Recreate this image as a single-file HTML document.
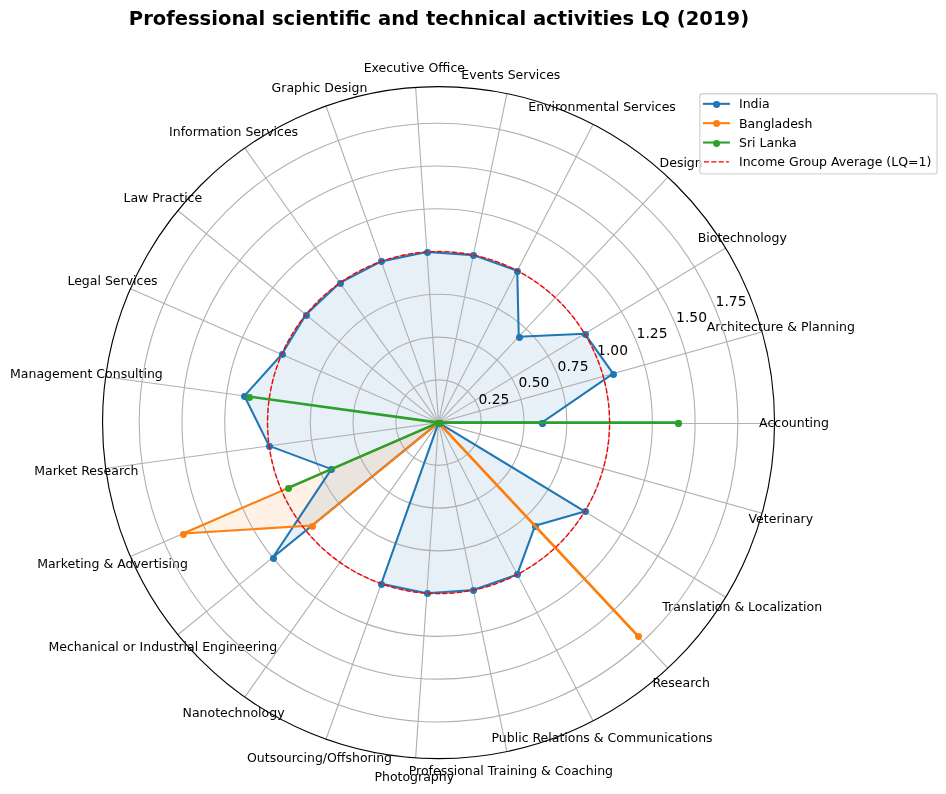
<!DOCTYPE html>
<html><head><meta charset="utf-8"><title>Professional scientific and technical activities LQ (2019)</title>
<style>html,body{margin:0;padding:0;background:#fff;}body{width:946px;height:794px;overflow:hidden;}svg{display:block;will-change:transform;}</style>
</head><body>
<svg width="946" height="794" viewBox="0 0 681.12 571.68">
 <defs>
  <style type="text/css">*{stroke-linejoin: round; stroke-linecap: butt}</style>
 </defs>
 <g id="figure_1">
  <g id="patch_1">
   <path d="M 0 571.68 L 681.12 571.68 L 681.12 0 L 0 0 z
" style="fill: #ffffff"/>
  </g>
  <g id="axes_1">
   <g id="patch_2">
    <path d="M 557.676 304.272 C 557.676 272.503357 551.41827 241.043623 539.260937 211.693224 C 527.103603 182.342825 509.283096 155.672551 486.819273 133.208727 C 464.355449 110.744904 437.685175 92.924397 408.334776 80.767063 C 378.984377 68.60973 347.524643 62.352 315.756 62.352 C 283.987357 62.352 252.527623 68.60973 223.177224 80.767063 C 193.826825 92.924397 167.156551 110.744904 144.692727 133.208727 C 122.228904 155.672551 104.408397 182.342825 92.251063 211.693224 C 80.09373 241.043623 73.836 272.503357 73.836 304.272 C 73.836 336.040643 80.09373 367.500377 92.251063 396.850776 C 104.408397 426.201175 122.228904 452.871449 144.692727 475.335273 C 167.156551 497.799096 193.826825 515.619603 223.177224 527.776937 C 252.527623 539.93427 283.987357 546.192 315.756 546.192 C 347.524643 546.192 378.984377 539.93427 408.334776 527.776937 C 437.685175 515.619603 464.355449 497.799096 486.819273 475.335273 C 509.283096 452.871449 527.103603 426.201175 539.260937 396.850776 C 551.41827 367.500377 557.676 336.040643 557.676 304.272 M 315.756 304.272 C 315.756 304.272 315.756 304.272 315.756 304.272 C 315.756 304.272 315.756 304.272 315.756 304.272 C 315.756 304.272 315.756 304.272 315.756 304.272 C 315.756 304.272 315.756 304.272 315.756 304.272 C 315.756 304.272 315.756 304.272 315.756 304.272 C 315.756 304.272 315.756 304.272 315.756 304.272 C 315.756 304.272 315.756 304.272 315.756 304.272 C 315.756 304.272 315.756 304.272 315.756 304.272 C 315.756 304.272 315.756 304.272 315.756 304.272 C 315.756 304.272 315.756 304.272 315.756 304.272 C 315.756 304.272 315.756 304.272 315.756 304.272 C 315.756 304.272 315.756 304.272 315.756 304.272 C 315.756 304.272 315.756 304.272 315.756 304.272 C 315.756 304.272 315.756 304.272 315.756 304.272 C 315.756 304.272 315.756 304.272 315.756 304.272 C 315.756 304.272 315.756 304.272 315.756 304.272 z
" style="fill: #ffffff"/>
   </g>
   <g id="patch_3">
    <path d="M 390.142224 304.272 L 441.460384 269.051283 L 420.982876 240.282119 L 373.505574 242.437305 L 372.41577 194.923608 L 340.812829 183.69192 L 307.351537 181.403105 L 274.513566 188.226914 L 244.734358 203.657256 L 220.2225 226.549733 L 202.795925 255.206515 L 175.970382 285.058909 L 193.747082 321.04174 L 238.604269 337.783726 L 196.367785 401.401517 L 315.756 304.272 L 274.513566 420.317086 L 307.351537 427.140895 L 340.812829 424.85208 L 372.41577 413.620392 L 385.189985 378.617645 L 420.982876 368.261881 L 315.756 304.272 z
" clip-path="url(#p01cf127305)" style="fill: #1f77b4; opacity: 0.1; stroke: #1f77b4; stroke-linejoin: miter"/>
   </g>
   <g id="patch_4">
    <path d="M 315.756 304.272 L 315.756 304.272 L 315.756 304.272 L 315.756 304.272 L 315.756 304.272 L 315.756 304.272 L 315.756 304.272 L 315.756 304.272 L 315.756 304.272 L 315.756 304.272 L 315.756 304.272 L 315.756 304.272 L 315.756 304.272 L 131.856998 384.150609 L 224.617041 378.419043 L 315.756 304.272 L 315.756 304.272 L 315.756 304.272 L 315.756 304.272 L 315.756 304.272 L 459.41542 458.093679 L 315.756 304.272 L 315.756 304.272 z
" clip-path="url(#p01cf127305)" style="fill: #ff7f0e; opacity: 0.1; stroke: #ff7f0e; stroke-linejoin: miter"/>
   </g>
   <g id="patch_5">
    <path d="M 488.420712 304.272 L 315.756 304.272 L 315.756 304.272 L 315.756 304.272 L 315.756 304.272 L 315.756 304.272 L 315.756 304.272 L 315.756 304.272 L 315.756 304.272 L 315.756 304.272 L 315.756 304.272 L 179.350029 285.523431 L 315.756 304.272 L 207.540248 351.276734 L 315.756 304.272 L 315.756 304.272 L 315.756 304.272 L 315.756 304.272 L 315.756 304.272 L 315.756 304.272 L 315.756 304.272 L 315.756 304.272 L 315.756 304.272 z
" clip-path="url(#p01cf127305)" style="fill: #2ca02c; opacity: 0.1; stroke: #2ca02c; stroke-linejoin: miter"/>
   </g>
   <g id="matplotlib.axis_1">
    <g id="xtick_1">
     <g id="line2d_1">
      <path d="M 315.756 304.92 L 557.676 304.92 " clip-path="url(#p01cf127305)" style="fill: none; stroke: #b0b0b0; stroke-width: 0.8; stroke-linecap: square"/>
     </g>
     <g id="text_1" transform="translate(0.000 0.720)">
      <text style="font-size: 9px; font-family: 'DejaVu Sans', sans-serif; text-anchor: middle" x="571.676" y="306.755438" transform="rotate(-0 571.676 306.755438)">Accounting</text>
     </g>
    </g>
    <g id="xtick_2">
     <g id="line2d_2">
      <path d="M 315.756 304.272 L 548.70495 239.002765 " clip-path="url(#p01cf127305)" style="fill: none; stroke: #b0b0b0; stroke-width: 0.8; stroke-linecap: square"/>
     </g>
     <g id="text_2" transform="translate(0.000 0.720)">
      <text style="font-size: 9px; font-family: 'DejaVu Sans', sans-serif; text-anchor: middle" x="562.185792" y="237.709048" transform="rotate(-0 562.185792 237.709048)">Architecture &amp; Planning</text>
     </g>
    </g>
    <g id="xtick_3">
     <g id="line2d_3">
      <path d="M 315.756 304.272 L 522.457142 178.574251 " clip-path="url(#p01cf127305)" style="fill: none; stroke: #b0b0b0; stroke-width: 0.8; stroke-linecap: square"/>
     </g>
     <g id="text_3" transform="translate(0.000 0.720)">
      <text style="font-size: 9px; font-family: 'DejaVu Sans', sans-serif; text-anchor: middle" x="534.419014" y="173.783513" transform="rotate(-0 534.419014 173.783513)">Biotechnology</text>
     </g>
    </g>
    <g id="xtick_4">
     <g id="line2d_4">
      <path d="M 315.756 304.272 L 480.879256 127.468164 " clip-path="url(#p01cf127305)" style="fill: none; stroke: #b0b0b0; stroke-width: 0.8; stroke-linecap: square"/>
     </g>
     <g id="text_4" transform="translate(0.000 0.720)">
      <text style="font-size: 9px; font-family: 'DejaVu Sans', sans-serif; text-anchor: middle" x="490.435" y="119.719898" transform="rotate(-0 490.435 119.719898)">Design</text>
     </g>
    </g>
    <g id="xtick_5">
     <g id="line2d_5">
      <path d="M 315.756 304.272 L 427.054934 89.474808 " clip-path="url(#p01cf127305)" style="fill: none; stroke: #b0b0b0; stroke-width: 0.8; stroke-linecap: square"/>
     </g>
     <g id="text_5" transform="translate(0.000 0.720)">
      <text style="font-size: 9px; font-family: 'DejaVu Sans', sans-serif; text-anchor: middle" x="433.495844" y="79.527852" transform="rotate(-0 433.495844 79.527852)">Environmental Services</text>
     </g>
    </g>
    <g id="xtick_6">
     <g id="line2d_6">
      <path d="M 315.756 304.272 L 364.976079 67.411978 " clip-path="url(#p01cf127305)" style="fill: none; stroke: #b0b0b0; stroke-width: 0.8; stroke-linecap: square"/>
     </g>
     <g id="text_6" transform="translate(0.000 0.720)">
      <text style="font-size: 9px; font-family: 'DejaVu Sans', sans-serif; text-anchor: middle" x="367.824463" y="56.188238" transform="rotate(-0 367.824463 56.188238)">Events Services</text>
     </g>
    </g>
    <g id="xtick_7">
     <g id="line2d_7">
      <path d="M 315.756 304.272 L 299.246795 62.915971 " clip-path="url(#p01cf127305)" style="fill: none; stroke: #b0b0b0; stroke-width: 0.8; stroke-linecap: square"/>
     </g>
     <g id="text_7" transform="translate(0.000 0.720)">
      <text style="font-size: 9px; font-family: 'DejaVu Sans', sans-serif; text-anchor: middle" x="298.291402" y="51.432046" transform="rotate(-0 298.291402 51.432046)">Executive Office</text>
     </g>
    </g>
    <g id="xtick_8">
     <g id="line2d_8">
      <path d="M 315.756 304.272 L 234.741924 76.320238 " clip-path="url(#p01cf127305)" style="fill: none; stroke: #b0b0b0; stroke-width: 0.8; stroke-linecap: square"/>
     </g>
     <g id="text_8" transform="translate(0.000 0.720)">
      <text style="font-size: 9px; font-family: 'DejaVu Sans', sans-serif; text-anchor: middle" x="230.05361" y="65.612022" transform="rotate(-0 230.05361 65.612022)">Graphic Design</text>
     </g>
    </g>
    <g id="xtick_9">
     <g id="line2d_9">
      <path d="M 315.756 304.272 L 176.245496 106.630643 " clip-path="url(#p01cf127305)" style="fill: none; stroke: #b0b0b0; stroke-width: 0.8; stroke-linecap: square"/>
     </g>
     <g id="text_9" transform="translate(0.000 0.000)">
      <text style="font-size: 9px; font-family: 'DejaVu Sans', sans-serif; text-anchor: middle" x="168.171972" y="97.676502" transform="rotate(-0 168.171972 97.676502)">Information Services</text>
     </g>
    </g>
    <g id="xtick_10">
     <g id="line2d_10">
      <path d="M 315.756 304.272 L 128.095925 151.599205 " clip-path="url(#p01cf127305)" style="fill: none; stroke: #b0b0b0; stroke-width: 0.8; stroke-linecap: square"/>
     </g>
     <g id="text_10" transform="translate(0.000 0.000)">
      <text style="font-size: 9px; font-family: 'DejaVu Sans', sans-serif; text-anchor: middle" x="117.235966" y="145.247411" transform="rotate(-0 117.235966 145.247411)">Law Practice</text>
     </g>
    </g>
    <g id="xtick_11">
     <g id="line2d_11">
      <path d="M 315.756 304.272 L 93.864242 207.890808 " clip-path="url(#p01cf127305)" style="fill: none; stroke: #b0b0b0; stroke-width: 0.8; stroke-linecap: square"/>
     </g>
     <g id="text_11" transform="translate(0.000 0.720)">
      <text style="font-size: 9px; font-family: 'DejaVu Sans', sans-serif; text-anchor: middle" x="81.023284" y="204.796631" transform="rotate(-0 81.023284 204.796631)">Legal Services</text>
     </g>
    </g>
    <g id="xtick_12">
     <g id="line2d_12">
      <path d="M 315.756 304.272 L 76.089256 271.330564 " clip-path="url(#p01cf127305)" style="fill: none; stroke: #b0b0b0; stroke-width: 0.8; stroke-linecap: square"/>
     </g>
     <g id="text_12" transform="translate(0.000 0.000)">
      <text style="font-size: 9px; font-family: 'DejaVu Sans', sans-serif; text-anchor: middle" x="62.219653" y="271.907669" transform="rotate(-0 62.219653 271.907669)">Management Consulting</text>
     </g>
    </g>
    <g id="xtick_13">
     <g id="line2d_13">
      <path d="M 315.756 304.272 L 76.089256 337.213436 " clip-path="url(#p01cf127305)" style="fill: none; stroke: #b0b0b0; stroke-width: 0.8; stroke-linecap: square"/>
     </g>
     <g id="text_13" transform="translate(0.000 0.720)">
      <text style="font-size: 9px; font-family: 'DejaVu Sans', sans-serif; text-anchor: middle" x="62.219653" y="341.603206" transform="rotate(-0 62.219653 341.603206)">Market Research</text>
     </g>
    </g>
    <g id="xtick_14">
     <g id="line2d_14">
      <path d="M 315.756 304.272 L 93.864242 400.653192 " clip-path="url(#p01cf127305)" style="fill: none; stroke: #b0b0b0; stroke-width: 0.8; stroke-linecap: square"/>
     </g>
     <g id="text_14" transform="translate(0.000 0.000)">
      <text style="font-size: 9px; font-family: 'DejaVu Sans', sans-serif; text-anchor: middle" x="81.023284" y="408.714244" transform="rotate(-0 81.023284 408.714244)">Marketing &amp; Advertising</text>
     </g>
    </g>
    <g id="xtick_15">
     <g id="line2d_15">
      <path d="M 315.756 304.272 L 128.095925 456.944795 " clip-path="url(#p01cf127305)" style="fill: none; stroke: #b0b0b0; stroke-width: 0.8; stroke-linecap: square"/>
     </g>
     <g id="text_15" transform="translate(0.000 0.720)">
      <text style="font-size: 9px; font-family: 'DejaVu Sans', sans-serif; text-anchor: middle" x="117.235966" y="468.263464" transform="rotate(-0 117.235966 468.263464)">Mechanical or Industrial Engineering</text>
     </g>
    </g>
    <g id="xtick_16">
     <g id="line2d_16">
      <path d="M 315.756 304.272 L 176.245496 501.913357 " clip-path="url(#p01cf127305)" style="fill: none; stroke: #b0b0b0; stroke-width: 0.8; stroke-linecap: square"/>
     </g>
     <g id="text_16" transform="translate(0.000 0.720)">
      <text style="font-size: 9px; font-family: 'DejaVu Sans', sans-serif; text-anchor: middle" x="168.171972" y="515.834373" transform="rotate(-0 168.171972 515.834373)">Nanotechnology</text>
     </g>
    </g>
    <g id="xtick_17">
     <g id="line2d_17">
      <path d="M 315.756 304.272 L 234.741924 532.223762 " clip-path="url(#p01cf127305)" style="fill: none; stroke: #b0b0b0; stroke-width: 0.8; stroke-linecap: square"/>
     </g>
     <g id="text_17" transform="translate(0.000 0.720)">
      <text style="font-size: 9px; font-family: 'DejaVu Sans', sans-serif; text-anchor: middle" x="230.05361" y="547.898853" transform="rotate(-0 230.05361 547.898853)">Outsourcing/Offshoring</text>
     </g>
    </g>
    <g id="xtick_18">
     <g id="line2d_18">
      <path d="M 315.756 304.272 L 299.246795 545.628029 " clip-path="url(#p01cf127305)" style="fill: none; stroke: #b0b0b0; stroke-width: 0.8; stroke-linecap: square"/>
     </g>
     <g id="text_18" transform="translate(0.000 0.000)">
      <text style="font-size: 9px; font-family: 'DejaVu Sans', sans-serif; text-anchor: middle" x="298.291402" y="562.078829" transform="rotate(-0 298.291402 562.078829)">Photography</text>
     </g>
    </g>
    <g id="xtick_19">
     <g id="line2d_19">
      <path d="M 315.756 304.272 L 364.976079 541.132022 " clip-path="url(#p01cf127305)" style="fill: none; stroke: #b0b0b0; stroke-width: 0.8; stroke-linecap: square"/>
     </g>
     <g id="text_19" transform="translate(0.000 0.720)">
      <text style="font-size: 9px; font-family: 'DejaVu Sans', sans-serif; text-anchor: middle" x="367.824463" y="557.322637" transform="rotate(-0 367.824463 557.322637)">Professional Training &amp; Coaching</text>
     </g>
    </g>
    <g id="xtick_20">
     <g id="line2d_20">
      <path d="M 315.756 304.272 L 427.054934 519.069192 " clip-path="url(#p01cf127305)" style="fill: none; stroke: #b0b0b0; stroke-width: 0.8; stroke-linecap: square"/>
     </g>
     <g id="text_20" transform="translate(0.000 0.000)">
      <text style="font-size: 9px; font-family: 'DejaVu Sans', sans-serif; text-anchor: middle" x="433.495844" y="533.983023" transform="rotate(-0 433.495844 533.983023)">Public Relations &amp; Communications</text>
     </g>
    </g>
    <g id="xtick_21">
     <g id="line2d_21">
      <path d="M 315.756 304.272 L 480.879256 481.075836 " clip-path="url(#p01cf127305)" style="fill: none; stroke: #b0b0b0; stroke-width: 0.8; stroke-linecap: square"/>
     </g>
     <g id="text_21" transform="translate(0.000 0.720)">
      <text style="font-size: 9px; font-family: 'DejaVu Sans', sans-serif; text-anchor: middle" x="490.435" y="493.790977" transform="rotate(-0 490.435 493.790977)">Research</text>
     </g>
    </g>
    <g id="xtick_22">
     <g id="line2d_22">
      <path d="M 315.756 304.272 L 522.457142 429.969749 " clip-path="url(#p01cf127305)" style="fill: none; stroke: #b0b0b0; stroke-width: 0.8; stroke-linecap: square"/>
     </g>
     <g id="text_22" transform="translate(0.000 0.000)">
      <text style="font-size: 9px; font-family: 'DejaVu Sans', sans-serif; text-anchor: middle" x="534.419014" y="439.727362" transform="rotate(-0 534.419014 439.727362)">Translation &amp; Localization</text>
     </g>
    </g>
    <g id="xtick_23">
     <g id="line2d_23">
      <path d="M 315.756 304.272 L 548.70495 369.541235 " clip-path="url(#p01cf127305)" style="fill: none; stroke: #b0b0b0; stroke-width: 0.8; stroke-linecap: square"/>
     </g>
     <g id="text_23" transform="translate(0.000 0.720)">
      <text style="font-size: 9px; font-family: 'DejaVu Sans', sans-serif; text-anchor: middle" x="562.185792" y="375.801827" transform="rotate(-0 562.185792 375.801827)">Veterinary</text>
     </g>
    </g>
   </g>
   <g id="matplotlib.axis_2">
    <g id="ytick_1">
     <g id="line2d_24">
      <path d="M 346.545 304.272 C 346.545 300.228826 345.748583 296.224966 344.201327 292.48956 C 342.654071 288.754154 340.386067 285.359845 337.527111 282.500889 C 334.668155 279.641933 331.273846 277.373929 327.53844 275.826673 C 323.803034 274.279417 319.799174 273.483 315.756 273.483 C 311.712826 273.483 307.708966 274.279417 303.97356 275.826673 C 300.238154 277.373929 296.843845 279.641933 293.984889 282.500889 C 291.125933 285.359845 288.857929 288.754154 287.310673 292.48956 C 285.763417 296.224966 284.967 300.228826 284.967 304.272 C 284.967 308.315174 285.763417 312.319034 287.310673 316.05444 C 288.857929 319.789846 291.125933 323.184155 293.984889 326.043111 C 296.843845 328.902067 300.238154 331.170071 303.97356 332.717327 C 307.708966 334.264583 311.712826 335.061 315.756 335.061 C 319.799174 335.061 323.803034 334.264583 327.53844 332.717327 C 331.273846 331.170071 334.668155 328.902067 337.527111 326.043111 C 340.386067 323.184155 342.654071 319.789846 344.201327 316.05444 C 345.748583 312.319034 346.545 308.315174 346.545 304.272 " clip-path="url(#p01cf127305)" style="fill: none; stroke: #b0b0b0; stroke-width: 0.8; stroke-linecap: square"/>
     </g>
     <g id="text_24" transform="translate(0.360 0.432)">
      <text style="font-size: 10px; font-family: 'DejaVu Sans', sans-serif; text-anchor: start" x="344.201327" y="290.409872" transform="rotate(-0 344.201327 290.409872)">0.25</text>
     </g>
    </g>
    <g id="ytick_2">
     <g id="line2d_25">
      <path d="M 377.334 304.272 C 377.334 296.185651 375.741166 288.177932 372.646654 280.70712 C 369.552142 273.236307 365.016133 266.447691 359.298221 260.729779 C 353.580309 255.011867 346.791693 250.475858 339.32088 247.381346 C 331.850068 244.286834 323.842349 242.694 315.756 242.694 C 307.669651 242.694 299.661932 244.286834 292.19112 247.381346 C 284.720307 250.475858 277.931691 255.011867 272.213779 260.729779 C 266.495867 266.447691 261.959858 273.236307 258.865346 280.70712 C 255.770834 288.177932 254.178 296.185651 254.178 304.272 C 254.178 312.358349 255.770834 320.366068 258.865346 327.83688 C 261.959858 335.307693 266.495867 342.096309 272.213779 347.814221 C 277.931691 353.532133 284.720307 358.068142 292.19112 361.162654 C 299.661932 364.257166 307.669651 365.85 315.756 365.85 C 323.842349 365.85 331.850068 364.257166 339.32088 361.162654 C 346.791693 358.068142 353.580309 353.532133 359.298221 347.814221 C 365.016133 342.096309 369.552142 335.307693 372.646654 327.83688 C 375.741166 320.366068 377.334 312.358349 377.334 304.272 " clip-path="url(#p01cf127305)" style="fill: none; stroke: #b0b0b0; stroke-width: 0.8; stroke-linecap: square"/>
     </g>
     <g id="text_25" transform="translate(0.612 -0.216)">
      <text style="font-size: 10px; font-family: 'DejaVu Sans', sans-serif; text-anchor: start" x="372.646654" y="278.627432" transform="rotate(-0 372.646654 278.627432)">0.50</text>
     </g>
    </g>
    <g id="ytick_3">
     <g id="line2d_26">
      <path d="M 408.123 304.272 C 408.123 292.142477 405.733748 280.130898 401.091981 268.924679 C 396.450213 257.718461 389.6462 247.535536 381.069332 238.958668 C 372.492464 230.3818 362.309539 223.577787 351.103321 218.936019 C 339.897102 214.294252 327.885523 211.905 315.756 211.905 C 303.626477 211.905 291.614898 214.294252 280.408679 218.936019 C 269.202461 223.577787 259.019536 230.3818 250.442668 238.958668 C 241.8658 247.535536 235.061787 257.718461 230.420019 268.924679 C 225.778252 280.130898 223.389 292.142477 223.389 304.272 C 223.389 316.401523 225.778252 328.413102 230.420019 339.619321 C 235.061787 350.825539 241.8658 361.008464 250.442668 369.585332 C 259.019536 378.1622 269.202461 384.966213 280.408679 389.607981 C 291.614898 394.249748 303.626477 396.639 315.756 396.639 C 327.885523 396.639 339.897102 394.249748 351.103321 389.607981 C 362.309539 384.966213 372.492464 378.1622 381.069332 369.585332 C 389.6462 361.008464 396.450213 350.825539 401.091981 339.619321 C 405.733748 328.413102 408.123 316.401523 408.123 304.272 " clip-path="url(#p01cf127305)" style="fill: none; stroke: #b0b0b0; stroke-width: 0.8; stroke-linecap: square"/>
     </g>
     <g id="text_26" transform="translate(0.360 0.432)">
      <text style="font-size: 10px; font-family: 'DejaVu Sans', sans-serif; text-anchor: start" x="401.091981" y="266.844992" transform="rotate(-0 401.091981 266.844992)">0.75</text>
     </g>
    </g>
    <g id="ytick_4">
     <g id="line2d_27">
      <path d="M 438.912 304.272 C 438.912 288.099302 435.726331 272.083864 429.537308 257.142239 C 423.348284 242.200615 414.276267 228.623381 402.840443 217.187557 C 391.404619 205.751733 377.827385 196.679716 362.885761 190.490692 C 347.944136 184.301669 331.928698 181.116 315.756 181.116 C 299.583302 181.116 283.567864 184.301669 268.626239 190.490692 C 253.684615 196.679716 240.107381 205.751733 228.671557 217.187557 C 217.235733 228.623381 208.163716 242.200615 201.974692 257.142239 C 195.785669 272.083864 192.6 288.099302 192.6 304.272 C 192.6 320.444698 195.785669 336.460136 201.974692 351.401761 C 208.163716 366.343385 217.235733 379.920619 228.671557 391.356443 C 240.107381 402.792267 253.684615 411.864284 268.626239 418.053308 C 283.567864 424.242331 299.583302 427.428 315.756 427.428 C 331.928698 427.428 347.944136 424.242331 362.885761 418.053308 C 377.827385 411.864284 391.404619 402.792267 402.840443 391.356443 C 414.276267 379.920619 423.348284 366.343385 429.537308 351.401761 C 435.726331 336.460136 438.912 320.444698 438.912 304.272 " clip-path="url(#p01cf127305)" style="fill: none; stroke: #b0b0b0; stroke-width: 0.8; stroke-linecap: square"/>
     </g>
     <g id="text_27" transform="translate(0.360 0.432)">
      <text style="font-size: 10px; font-family: 'DejaVu Sans', sans-serif; text-anchor: start" x="429.537308" y="255.062552" transform="rotate(-0 429.537308 255.062552)">1.00</text>
     </g>
    </g>
    <g id="ytick_5">
     <g id="line2d_28">
      <path d="M 469.701 304.272 C 469.701 284.056128 465.718914 264.03683 457.982635 245.359799 C 450.246355 226.682768 438.906334 209.711227 424.611553 195.416447 C 410.316773 181.121666 393.345232 169.781645 374.668201 162.045365 C 355.99117 154.309086 335.971872 150.327 315.756 150.327 C 295.540128 150.327 275.52083 154.309086 256.843799 162.045365 C 238.166768 169.781645 221.195227 181.121666 206.900447 195.416447 C 192.605666 209.711227 181.265645 226.682768 173.529365 245.359799 C 165.793086 264.03683 161.811 284.056128 161.811 304.272 C 161.811 324.487872 165.793086 344.50717 173.529365 363.184201 C 181.265645 381.861232 192.605666 398.832773 206.900447 413.127553 C 221.195227 427.422334 238.166768 438.762355 256.843799 446.498635 C 275.52083 454.234914 295.540128 458.217 315.756 458.217 C 335.971872 458.217 355.99117 454.234914 374.668201 446.498635 C 393.345232 438.762355 410.316773 427.422334 424.611553 413.127553 C 438.906334 398.832773 450.246355 381.861232 457.982635 363.184201 C 465.718914 344.50717 469.701 324.487872 469.701 304.272 " clip-path="url(#p01cf127305)" style="fill: none; stroke: #b0b0b0; stroke-width: 0.8; stroke-linecap: square"/>
     </g>
     <g id="text_28" transform="translate(0.360 0.432)">
      <text style="font-size: 10px; font-family: 'DejaVu Sans', sans-serif; text-anchor: start" x="457.982635" y="243.280112" transform="rotate(-0 457.982635 243.280112)">1.25</text>
     </g>
    </g>
    <g id="ytick_6">
     <g id="line2d_29">
      <path d="M 500.49 304.272 C 500.49 280.012953 495.711497 255.989795 486.427962 233.577359 C 477.144426 211.164922 463.5364 190.799072 446.382664 173.645336 C 429.228928 156.4916 408.863078 142.883574 386.450641 133.600038 C 364.038205 124.316503 340.015047 119.538 315.756 119.538 C 291.496953 119.538 267.473795 124.316503 245.061359 133.600038 C 222.648922 142.883574 202.283072 156.4916 185.129336 173.645336 C 167.9756 190.799072 154.367574 211.164922 145.084038 233.577359 C 135.800503 255.989795 131.022 280.012953 131.022 304.272 C 131.022 328.531047 135.800503 352.554205 145.084038 374.966641 C 154.367574 397.379078 167.9756 417.744928 185.129336 434.898664 C 202.283072 452.0524 222.648922 465.660426 245.061359 474.943962 C 267.473795 484.227497 291.496953 489.006 315.756 489.006 C 340.015047 489.006 364.038205 484.227497 386.450641 474.943962 C 408.863078 465.660426 429.228928 452.0524 446.382664 434.898664 C 463.5364 417.744928 477.144426 397.379078 486.427962 374.966641 C 495.711497 352.554205 500.49 328.531047 500.49 304.272 " clip-path="url(#p01cf127305)" style="fill: none; stroke: #b0b0b0; stroke-width: 0.8; stroke-linecap: square"/>
     </g>
     <g id="text_29" transform="translate(0.360 0.432)">
      <text style="font-size: 10px; font-family: 'DejaVu Sans', sans-serif; text-anchor: start" x="486.427962" y="231.497671" transform="rotate(-0 486.427962 231.497671)">1.50</text>
     </g>
    </g>
    <g id="ytick_7">
     <g id="line2d_30">
      <path d="M 531.279 304.272 C 531.279 275.969779 525.70408 247.942761 514.873288 221.794919 C 504.042497 195.647076 488.166467 171.886918 468.153775 151.874225 C 448.141082 131.861533 424.380924 115.985503 398.233081 105.154712 C 372.085239 94.32392 344.058221 88.749 315.756 88.749 C 287.453779 88.749 259.426761 94.32392 233.278919 105.154712 C 207.131076 115.985503 183.370918 131.861533 163.358225 151.874225 C 143.345533 171.886918 127.469503 195.647076 116.638712 221.794919 C 105.80792 247.942761 100.233 275.969779 100.233 304.272 C 100.233 332.574221 105.80792 360.601239 116.638712 386.749081 C 127.469503 412.896924 143.345533 436.657082 163.358225 456.669775 C 183.370918 476.682467 207.131076 492.558497 233.278919 503.389288 C 259.426761 514.22008 287.453779 519.795 315.756 519.795 C 344.058221 519.795 372.085239 514.22008 398.233081 503.389288 C 424.380924 492.558497 448.141082 476.682467 468.153775 456.669775 C 488.166467 436.657082 504.042497 412.896924 514.873288 386.749081 C 525.70408 360.601239 531.279 332.574221 531.279 304.272 " clip-path="url(#p01cf127305)" style="fill: none; stroke: #b0b0b0; stroke-width: 0.8; stroke-linecap: square"/>
     </g>
     <g id="text_30" transform="translate(0.360 0.432)">
      <text style="font-size: 10px; font-family: 'DejaVu Sans', sans-serif; text-anchor: start" x="514.873288" y="219.715231" transform="rotate(-0 514.873288 219.715231)">1.75</text>
     </g>
    </g>
   </g>
   <g id="line2d_31">
    <path d="M 390.142224 304.272 L 441.460384 269.051283 L 420.982876 240.282119 L 373.505574 242.437305 L 372.41577 194.923608 L 340.812829 183.69192 L 307.351537 181.403105 L 274.513566 188.226914 L 244.734358 203.657256 L 220.2225 226.549733 L 202.795925 255.206515 L 175.970382 285.058909 L 193.747082 321.04174 L 238.604269 337.783726 L 196.367785 401.401517 L 315.756 304.272 L 274.513566 420.317086 L 307.351537 427.140895 L 340.812829 424.85208 L 372.41577 413.620392 L 385.189985 378.617645 L 420.982876 368.261881 L 315.756 304.272 L 390.142224 304.272 " clip-path="url(#p01cf127305)" style="fill: none; stroke: #1f77b4; stroke-width: 1.5; stroke-linecap: square"/>
   </g>
   <g id="line2d_32">
    <g clip-path="url(#p01cf127305)">
     <circle cx="390.600" cy="304.920" r="2.0000" style="fill: #1f77b4; stroke: #1f77b4"/>
     <circle cx="441.720" cy="269.640" r="2.0000" style="fill: #1f77b4; stroke: #1f77b4"/>
     <circle cx="421.560" cy="240.840" r="2.0000" style="fill: #1f77b4; stroke: #1f77b4"/>
     <circle cx="374.040" cy="243.000" r="2.0000" style="fill: #1f77b4; stroke: #1f77b4"/>
     <circle cx="372.600" cy="195.480" r="2.0000" style="fill: #1f77b4; stroke: #1f77b4"/>
     <circle cx="340.920" cy="183.960" r="2.0000" style="fill: #1f77b4; stroke: #1f77b4"/>
     <circle cx="307.800" cy="181.800" r="2.0000" style="fill: #1f77b4; stroke: #1f77b4"/>
     <circle cx="274.680" cy="188.280" r="2.0000" style="fill: #1f77b4; stroke: #1f77b4"/>
     <circle cx="245.160" cy="204.120" r="2.0000" style="fill: #1f77b4; stroke: #1f77b4"/>
     <circle cx="220.680" cy="227.160" r="2.0000" style="fill: #1f77b4; stroke: #1f77b4"/>
     <circle cx="203.400" cy="255.240" r="2.0000" style="fill: #1f77b4; stroke: #1f77b4"/>
     <circle cx="176.040" cy="285.480" r="2.0000" style="fill: #1f77b4; stroke: #1f77b4"/>
     <circle cx="194.040" cy="321.480" r="2.0000" style="fill: #1f77b4; stroke: #1f77b4"/>
     <circle cx="238.680" cy="338.040" r="2.0000" style="fill: #1f77b4; stroke: #1f77b4"/>
     <circle cx="196.920" cy="402.120" r="2.0000" style="fill: #1f77b4; stroke: #1f77b4"/>
     <circle cx="316.440" cy="304.920" r="2.0000" style="fill: #1f77b4; stroke: #1f77b4"/>
     <circle cx="274.680" cy="420.840" r="2.0000" style="fill: #1f77b4; stroke: #1f77b4"/>
     <circle cx="307.800" cy="427.320" r="2.0000" style="fill: #1f77b4; stroke: #1f77b4"/>
     <circle cx="340.920" cy="425.160" r="2.0000" style="fill: #1f77b4; stroke: #1f77b4"/>
     <circle cx="372.600" cy="413.640" r="2.0000" style="fill: #1f77b4; stroke: #1f77b4"/>
     <circle cx="385.560" cy="379.080" r="2.0000" style="fill: #1f77b4; stroke: #1f77b4"/>
     <circle cx="421.560" cy="368.280" r="2.0000" style="fill: #1f77b4; stroke: #1f77b4"/>
     <circle cx="316.440" cy="304.920" r="2.0000" style="fill: #1f77b4; stroke: #1f77b4"/>
     <circle cx="390.600" cy="304.920" r="2.0000" style="fill: #1f77b4; stroke: #1f77b4"/>
    </g>
   </g>
   <g id="line2d_33">
    <path d="M 315.756 304.272 L 315.756 304.272 L 315.756 304.272 L 315.756 304.272 L 315.756 304.272 L 315.756 304.272 L 315.756 304.272 L 315.756 304.272 L 315.756 304.272 L 315.756 304.272 L 315.756 304.272 L 315.756 304.272 L 315.756 304.272 L 131.856998 384.150609 L 224.617041 378.419043 L 315.756 304.272 L 315.756 304.272 L 315.756 304.272 L 315.756 304.272 L 315.756 304.272 L 459.41542 458.093679 L 315.756 304.272 L 315.756 304.272 L 315.756 304.272 " clip-path="url(#p01cf127305)" style="fill: none; stroke: #ff7f0e; stroke-width: 1.5; stroke-linecap: square"/>
   </g>
   <g id="line2d_34">
    <path d="M 315.756 304.272 L 459.41542 458.093679 " clip-path="url(#p01cf127305)" style="fill: none; stroke: #ff7f0e; stroke-width: 1.86; stroke-linecap: square"/>
   </g>
   <g id="line2d_35">
    <g clip-path="url(#p01cf127305)">
     <circle cx="316.440" cy="304.920" r="2.0000" style="fill: #ff7f0e; stroke: #ff7f0e"/>
     <circle cx="316.440" cy="304.920" r="2.0000" style="fill: #ff7f0e; stroke: #ff7f0e"/>
     <circle cx="316.440" cy="304.920" r="2.0000" style="fill: #ff7f0e; stroke: #ff7f0e"/>
     <circle cx="316.440" cy="304.920" r="2.0000" style="fill: #ff7f0e; stroke: #ff7f0e"/>
     <circle cx="316.440" cy="304.920" r="2.0000" style="fill: #ff7f0e; stroke: #ff7f0e"/>
     <circle cx="316.440" cy="304.920" r="2.0000" style="fill: #ff7f0e; stroke: #ff7f0e"/>
     <circle cx="316.440" cy="304.920" r="2.0000" style="fill: #ff7f0e; stroke: #ff7f0e"/>
     <circle cx="316.440" cy="304.920" r="2.0000" style="fill: #ff7f0e; stroke: #ff7f0e"/>
     <circle cx="316.440" cy="304.920" r="2.0000" style="fill: #ff7f0e; stroke: #ff7f0e"/>
     <circle cx="316.440" cy="304.920" r="2.0000" style="fill: #ff7f0e; stroke: #ff7f0e"/>
     <circle cx="316.440" cy="304.920" r="2.0000" style="fill: #ff7f0e; stroke: #ff7f0e"/>
     <circle cx="316.440" cy="304.920" r="2.0000" style="fill: #ff7f0e; stroke: #ff7f0e"/>
     <circle cx="316.440" cy="304.920" r="2.0000" style="fill: #ff7f0e; stroke: #ff7f0e"/>
     <circle cx="132.120" cy="384.840" r="2.0000" style="fill: #ff7f0e; stroke: #ff7f0e"/>
     <circle cx="225.000" cy="379.080" r="2.0000" style="fill: #ff7f0e; stroke: #ff7f0e"/>
     <circle cx="316.440" cy="304.920" r="2.0000" style="fill: #ff7f0e; stroke: #ff7f0e"/>
     <circle cx="316.440" cy="304.920" r="2.0000" style="fill: #ff7f0e; stroke: #ff7f0e"/>
     <circle cx="316.440" cy="304.920" r="2.0000" style="fill: #ff7f0e; stroke: #ff7f0e"/>
     <circle cx="316.440" cy="304.920" r="2.0000" style="fill: #ff7f0e; stroke: #ff7f0e"/>
     <circle cx="316.440" cy="304.920" r="2.0000" style="fill: #ff7f0e; stroke: #ff7f0e"/>
     <circle cx="459.720" cy="458.280" r="2.0000" style="fill: #ff7f0e; stroke: #ff7f0e"/>
     <circle cx="316.440" cy="304.920" r="2.0000" style="fill: #ff7f0e; stroke: #ff7f0e"/>
     <circle cx="316.440" cy="304.920" r="2.0000" style="fill: #ff7f0e; stroke: #ff7f0e"/>
     <circle cx="316.440" cy="304.920" r="2.0000" style="fill: #ff7f0e; stroke: #ff7f0e"/>
    </g>
   </g>
   <g id="line2d_36">
    <path d="M 488.420712 304.272 L 315.756 304.272 L 315.756 304.272 L 315.756 304.272 L 315.756 304.272 L 315.756 304.272 L 315.756 304.272 L 315.756 304.272 L 315.756 304.272 L 315.756 304.272 L 315.756 304.272 L 179.350029 285.523431 L 315.756 304.272 L 207.540248 351.276734 L 315.756 304.272 L 315.756 304.272 L 315.756 304.272 L 315.756 304.272 L 315.756 304.272 L 315.756 304.272 L 315.756 304.272 L 315.756 304.272 L 315.756 304.272 L 488.420712 304.272 " clip-path="url(#p01cf127305)" style="fill: none; stroke: #2ca02c; stroke-width: 1.86; stroke-linecap: square"/>
   </g>
   <g id="line2d_37">
    <g clip-path="url(#p01cf127305)">
     <circle cx="488.520" cy="304.920" r="2.0000" style="fill: #2ca02c; stroke: #2ca02c"/>
     <circle cx="316.440" cy="304.920" r="2.0000" style="fill: #2ca02c; stroke: #2ca02c"/>
     <circle cx="316.440" cy="304.920" r="2.0000" style="fill: #2ca02c; stroke: #2ca02c"/>
     <circle cx="316.440" cy="304.920" r="2.0000" style="fill: #2ca02c; stroke: #2ca02c"/>
     <circle cx="316.440" cy="304.920" r="2.0000" style="fill: #2ca02c; stroke: #2ca02c"/>
     <circle cx="316.440" cy="304.920" r="2.0000" style="fill: #2ca02c; stroke: #2ca02c"/>
     <circle cx="316.440" cy="304.920" r="2.0000" style="fill: #2ca02c; stroke: #2ca02c"/>
     <circle cx="316.440" cy="304.920" r="2.0000" style="fill: #2ca02c; stroke: #2ca02c"/>
     <circle cx="316.440" cy="304.920" r="2.0000" style="fill: #2ca02c; stroke: #2ca02c"/>
     <circle cx="316.440" cy="304.920" r="2.0000" style="fill: #2ca02c; stroke: #2ca02c"/>
     <circle cx="316.440" cy="304.920" r="2.0000" style="fill: #2ca02c; stroke: #2ca02c"/>
     <circle cx="179.640" cy="286.200" r="2.0000" style="fill: #2ca02c; stroke: #2ca02c"/>
     <circle cx="316.440" cy="304.920" r="2.0000" style="fill: #2ca02c; stroke: #2ca02c"/>
     <circle cx="207.720" cy="351.720" r="2.0000" style="fill: #2ca02c; stroke: #2ca02c"/>
     <circle cx="316.440" cy="304.920" r="2.0000" style="fill: #2ca02c; stroke: #2ca02c"/>
     <circle cx="316.440" cy="304.920" r="2.0000" style="fill: #2ca02c; stroke: #2ca02c"/>
     <circle cx="316.440" cy="304.920" r="2.0000" style="fill: #2ca02c; stroke: #2ca02c"/>
     <circle cx="316.440" cy="304.920" r="2.0000" style="fill: #2ca02c; stroke: #2ca02c"/>
     <circle cx="316.440" cy="304.920" r="2.0000" style="fill: #2ca02c; stroke: #2ca02c"/>
     <circle cx="316.440" cy="304.920" r="2.0000" style="fill: #2ca02c; stroke: #2ca02c"/>
     <circle cx="316.440" cy="304.920" r="2.0000" style="fill: #2ca02c; stroke: #2ca02c"/>
     <circle cx="316.440" cy="304.920" r="2.0000" style="fill: #2ca02c; stroke: #2ca02c"/>
     <circle cx="316.440" cy="304.920" r="2.0000" style="fill: #2ca02c; stroke: #2ca02c"/>
     <circle cx="488.520" cy="304.920" r="2.0000" style="fill: #2ca02c; stroke: #2ca02c"/>
    </g>
   </g>
   <g id="line2d_38">
    <path d="M 438.912 304.272 L 438.836977 299.973918 L 438.611998 295.681072 L 438.237339 291.398693 L 437.713454 287.131998 L 437.040984 282.886185 L 436.220746 278.666428 L 435.25374 274.477867 L 434.141145 270.325606 L 432.884316 266.214703 L 431.484784 262.150167 L 429.944255 258.13695 L 428.264604 254.179942 L 426.44788 250.283963 L 424.496294 246.45376 L 422.412225 242.694 L 420.198211 239.009263 L 417.856951 235.404039 L 415.391297 231.882719 L 412.804252 228.449595 L 410.098969 225.108849 L 407.278744 221.864551 L 404.347012 218.720654 L 401.307346 215.680988 L 398.163449 212.749256 L 394.919151 209.929031 L 391.578405 207.223748 L 388.145281 204.636703 L 384.623961 202.171049 L 381.018737 199.829789 L 377.334 197.615775 L 373.57424 195.531706 L 369.744037 193.58012 L 365.848058 191.763396 L 361.89105 190.083745 L 357.877833 188.543216 L 353.813297 187.143684 L 349.702394 185.886855 L 345.550133 184.77426 L 341.361572 183.807254 L 337.141815 182.987016 L 332.896002 182.314546 L 328.629307 181.790661 L 324.346928 181.416002 L 320.054082 181.191023 L 315.756 181.116 L 311.457918 181.191023 L 307.165072 181.416002 L 302.882693 181.790661 L 298.615998 182.314546 L 294.370185 182.987016 L 290.150428 183.807254 L 285.961867 184.77426 L 281.809606 185.886855 L 277.698703 187.143684 L 273.634167 188.543216 L 269.62095 190.083745 L 265.663942 191.763396 L 261.767963 193.58012 L 257.93776 195.531706 L 254.178 197.615775 L 250.493263 199.829789 L 246.888039 202.171049 L 243.366719 204.636703 L 239.933595 207.223748 L 236.592849 209.929031 L 233.348551 212.749256 L 230.204654 215.680988 L 227.164988 218.720654 L 224.233256 221.864551 L 221.413031 225.108849 L 218.707748 228.449595 L 216.120703 231.882719 L 213.655049 235.404039 L 211.313789 239.009263 L 209.099775 242.694 L 207.015706 246.45376 L 205.06412 250.283963 L 203.247396 254.179942 L 201.567745 258.13695 L 200.027216 262.150167 L 198.627684 266.214703 L 197.370855 270.325606 L 196.25826 274.477867 L 195.291254 278.666428 L 194.471016 282.886185 L 193.798546 287.131998 L 193.274661 291.398693 L 192.900002 295.681072 L 192.675023 299.973918 L 192.6 304.272 L 192.675023 308.570082 L 192.900002 312.862928 L 193.274661 317.145307 L 193.798546 321.412002 L 194.471016 325.657815 L 195.291254 329.877572 L 196.25826 334.066133 L 197.370855 338.218394 L 198.627684 342.329297 L 200.027216 346.393833 L 201.567745 350.40705 L 203.247396 354.364058 L 205.06412 358.260037 L 207.015706 362.09024 L 209.099775 365.85 L 211.313789 369.534737 L 213.655049 373.139961 L 216.120703 376.661281 L 218.707748 380.094405 L 221.413031 383.435151 L 224.233256 386.679449 L 227.164988 389.823346 L 230.204654 392.863012 L 233.348551 395.794744 L 236.592849 398.614969 L 239.933595 401.320252 L 243.366719 403.907297 L 246.888039 406.372951 L 250.493263 408.714211 L 254.178 410.928225 L 257.93776 413.012294 L 261.767963 414.96388 L 265.663942 416.780604 L 269.62095 418.460255 L 273.634167 420.000784 L 277.698703 421.400316 L 281.809606 422.657145 L 285.961867 423.76974 L 290.150428 424.736746 L 294.370185 425.556984 L 298.615998 426.229454 L 302.882693 426.753339 L 307.165072 427.127998 L 311.457918 427.352977 L 315.756 427.428 L 320.054082 427.352977 L 324.346928 427.127998 L 328.629307 426.753339 L 332.896002 426.229454 L 337.141815 425.556984 L 341.361572 424.736746 L 345.550133 423.76974 L 349.702394 422.657145 L 353.813297 421.400316 L 357.877833 420.000784 L 361.89105 418.460255 L 365.848058 416.780604 L 369.744037 414.96388 L 373.57424 413.012294 L 377.334 410.928225 L 381.018737 408.714211 L 384.623961 406.372951 L 388.145281 403.907297 L 391.578405 401.320252 L 394.919151 398.614969 L 398.163449 395.794744 L 401.307346 392.863012 L 404.347012 389.823346 L 407.278744 386.679449 L 410.098969 383.435151 L 412.804252 380.094405 L 415.391297 376.661281 L 417.856951 373.139961 L 420.198211 369.534737 L 422.412225 365.85 L 424.496294 362.09024 L 426.44788 358.260037 L 428.264604 354.364058 L 429.944255 350.40705 L 431.484784 346.393833 L 432.884316 342.329297 L 434.141145 338.218394 L 435.25374 334.066133 L 436.220746 329.877572 L 437.040984 325.657815 L 437.713454 321.412002 L 438.237339 317.145307 L 438.611998 312.862928 L 438.836977 308.570082 L 438.912 304.272 L 438.912 304.272 " clip-path="url(#p01cf127305)" style="fill: none; stroke-dasharray: 3.7,1.6; stroke-dashoffset: 0; stroke: #ff0000"/>
   </g>
   <g id="patch_6">
    <path d="M 557.676 304.272 C 557.676 272.503357 551.41827 241.043623 539.260937 211.693224 C 527.103603 182.342825 509.283096 155.672551 486.819273 133.208727 C 464.355449 110.744904 437.685175 92.924397 408.334776 80.767063 C 378.984377 68.60973 347.524643 62.352 315.756 62.352 C 283.987357 62.352 252.527623 68.60973 223.177224 80.767063 C 193.826825 92.924397 167.156551 110.744904 144.692727 133.208727 C 122.228904 155.672551 104.408397 182.342825 92.251063 211.693224 C 80.09373 241.043623 73.836 272.503357 73.836 304.272 C 73.836 336.040643 80.09373 367.500377 92.251063 396.850776 C 104.408397 426.201175 122.228904 452.871449 144.692727 475.335273 C 167.156551 497.799096 193.826825 515.619603 223.177224 527.776937 C 252.527623 539.93427 283.987357 546.192 315.756 546.192 C 347.524643 546.192 378.984377 539.93427 408.334776 527.776937 C 437.685175 515.619603 464.355449 497.799096 486.819273 475.335273 C 509.283096 452.871449 527.103603 426.201175 539.260937 396.850776 C 551.41827 367.500377 557.676 336.040643 557.676 304.272 " style="fill: none; stroke: #000000; stroke-width: 0.8; stroke-linejoin: miter; stroke-linecap: square"/>
   </g>
   <g id="legend_1">
    <g id="patch_7">
     <path d="M 505.668094 125.16525 L 672.912 125.16525 Q 674.712 125.16525 674.712 123.36525 L 674.712 69.264 Q 674.712 67.464 672.912 67.464 L 505.668094 67.464 Q 503.868094 67.464 503.868094 69.264 L 503.868094 123.36525 Q 503.868094 125.16525 505.668094 125.16525 z
" style="fill: #ffffff; opacity: 0.8; stroke: #cccccc; stroke-linejoin: miter"/>
    </g>
    <g id="leghandle_0" transform="translate(-0.648 0.000)">
     <path d="M 507.468094 74.752594 L 516.468094 74.752594 L 525.468094 74.752594 " style="fill: none; stroke: #1f77b4; stroke-width: 1.5; stroke-linecap: square"/>
     <g>
      <circle cx="516.600" cy="75.240" r="2.0000" style="fill: #1f77b4; stroke: #1f77b4"/>
     </g>
    </g>
    <g id="text_31" transform="translate(-0.576 0.000)">
     <text style="font-size: 9px; font-family: 'DejaVu Sans', sans-serif; text-anchor: start" x="532.668094" y="77.902594" transform="rotate(-0 532.668094 77.902594)">India</text>
    </g>
    <g id="leghandle_1" transform="translate(-0.648 0.000)">
     <path d="M 507.468094 88.682906 L 516.468094 88.682906 L 525.468094 88.682906 " style="fill: none; stroke: #ff7f0e; stroke-width: 1.5; stroke-linecap: square"/>
     <g>
      <circle cx="516.600" cy="88.920" r="2.0000" style="fill: #ff7f0e; stroke: #ff7f0e"/>
     </g>
    </g>
    <g id="text_32" transform="translate(-0.576 0.000)">
     <text style="font-size: 9px; font-family: 'DejaVu Sans', sans-serif; text-anchor: start" x="532.668094" y="91.832906" transform="rotate(-0 532.668094 91.832906)">Bangladesh</text>
    </g>
    <g id="leghandle_2" transform="translate(-0.648 0.000)">
     <path d="M 507.468094 102.613219 L 516.468094 102.613219 L 525.468094 102.613219 " style="fill: none; stroke: #2ca02c; stroke-width: 1.5; stroke-linecap: square"/>
     <g>
      <circle cx="516.600" cy="103.320" r="2.0000" style="fill: #2ca02c; stroke: #2ca02c"/>
     </g>
    </g>
    <g id="text_33" transform="translate(-0.576 0.000)">
     <text style="font-size: 9px; font-family: 'DejaVu Sans', sans-serif; text-anchor: start" x="532.668094" y="105.763219" transform="rotate(-0 532.668094 105.763219)">Sri Lanka</text>
    </g>
    <g id="leghandle_3" transform="translate(-0.648 0.000)">
     <path d="M 507.468094 116.543531 L 516.468094 116.543531 L 525.468094 116.543531 " style="fill: none; stroke-dasharray: 3.7,1.6; stroke-dashoffset: 0; stroke: #ff0000"/>
    </g>
    <g id="text_34" transform="translate(-0.576 0.000)">
     <text style="font-size: 9px; font-family: 'DejaVu Sans', sans-serif; text-anchor: start" x="532.668094" y="119.693531" transform="rotate(-0 532.668094 119.693531)">Income Group Average (LQ=1)</text>
    </g>
   </g>
  </g>
  <g id="text_35" transform="translate(0.288 0.000)">
   <text style="font-weight: 700; font-size: 14.09px; font-family: 'DejaVu Sans', sans-serif; text-anchor: middle" x="315.756" y="18.072" transform="rotate(-0 315.756 18.072)">Professional scientific and technical activities LQ (2019)</text>
  </g>
 </g>
 <defs>
  <clipPath id="p01cf127305">
   <path d="M 557.676 304.272 C 557.676 272.503357 551.41827 241.043623 539.260937 211.693224 C 527.103603 182.342825 509.283096 155.672551 486.819273 133.208727 C 464.355449 110.744904 437.685175 92.924397 408.334776 80.767063 C 378.984377 68.60973 347.524643 62.352 315.756 62.352 C 283.987357 62.352 252.527623 68.60973 223.177224 80.767063 C 193.826825 92.924397 167.156551 110.744904 144.692727 133.208727 C 122.228904 155.672551 104.408397 182.342825 92.251063 211.693224 C 80.09373 241.043623 73.836 272.503357 73.836 304.272 C 73.836 336.040643 80.09373 367.500377 92.251063 396.850776 C 104.408397 426.201175 122.228904 452.871449 144.692727 475.335273 C 167.156551 497.799096 193.826825 515.619603 223.177224 527.776937 C 252.527623 539.93427 283.987357 546.192 315.756 546.192 C 347.524643 546.192 378.984377 539.93427 408.334776 527.776937 C 437.685175 515.619603 464.355449 497.799096 486.819273 475.335273 C 509.283096 452.871449 527.103603 426.201175 539.260937 396.850776 C 551.41827 367.500377 557.676 336.040643 557.676 304.272 M 315.756 304.272 C 315.756 304.272 315.756 304.272 315.756 304.272 C 315.756 304.272 315.756 304.272 315.756 304.272 C 315.756 304.272 315.756 304.272 315.756 304.272 C 315.756 304.272 315.756 304.272 315.756 304.272 C 315.756 304.272 315.756 304.272 315.756 304.272 C 315.756 304.272 315.756 304.272 315.756 304.272 C 315.756 304.272 315.756 304.272 315.756 304.272 C 315.756 304.272 315.756 304.272 315.756 304.272 C 315.756 304.272 315.756 304.272 315.756 304.272 C 315.756 304.272 315.756 304.272 315.756 304.272 C 315.756 304.272 315.756 304.272 315.756 304.272 C 315.756 304.272 315.756 304.272 315.756 304.272 C 315.756 304.272 315.756 304.272 315.756 304.272 C 315.756 304.272 315.756 304.272 315.756 304.272 C 315.756 304.272 315.756 304.272 315.756 304.272 C 315.756 304.272 315.756 304.272 315.756 304.272 z
"/>
  </clipPath>
 </defs>
</svg>

</body></html>
